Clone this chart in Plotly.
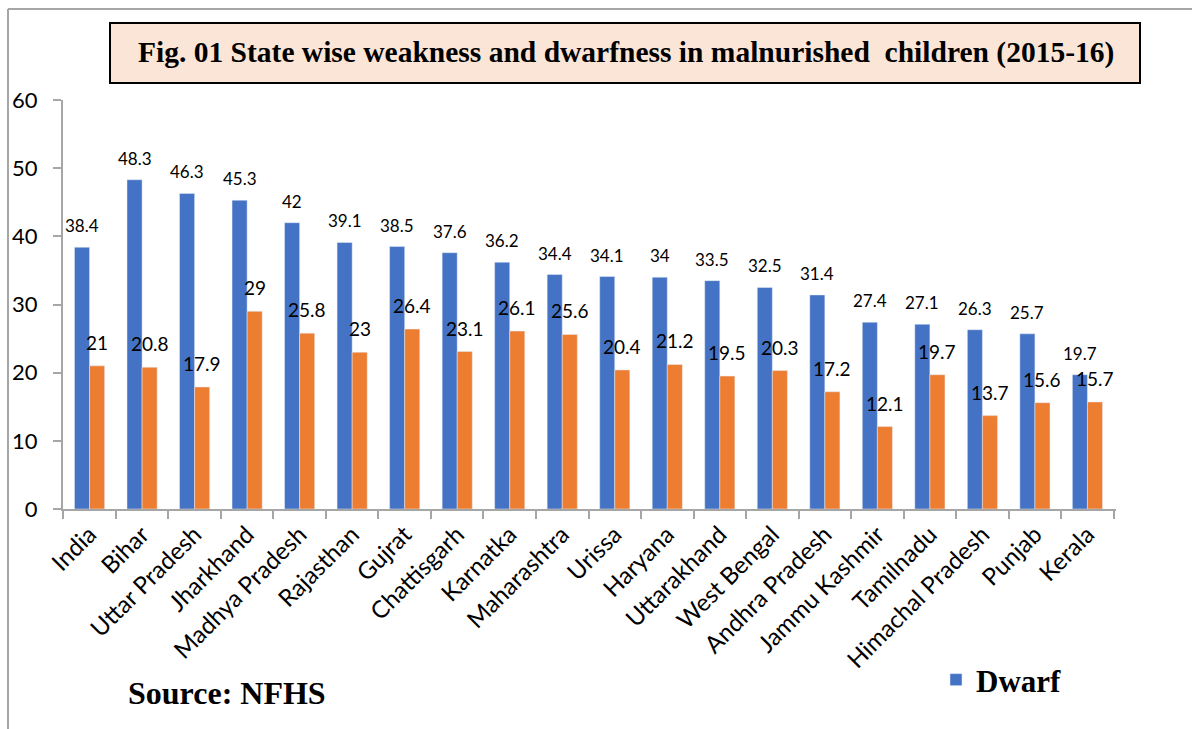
import plotly.graph_objects as go

states = ["India", "Bihar", "Uttar Pradesh", "Jharkhand", "Madhya Pradesh", "Rajasthan",
          "Gujrat", "Chattisgarh", "Karnatka", "Maharashtra", "Urissa", "Haryana",
          "Uttarakhand", "West Bengal", "Andhra Pradesh", "Jammu Kashmir", "Tamilnadu",
          "Himachal Pradesh", "Punjab", "Kerala"]
dwarf = [38.4, 48.3, 46.3, 45.3, 42, 39.1, 38.5, 37.6, 36.2, 34.4, 34.1, 34, 33.5, 32.5,
         31.4, 27.4, 27.1, 26.3, 25.7, 19.7]
weak = [21, 20.8, 17.9, 29, 25.8, 23, 26.4, 23.1, 26.1, 25.6, 20.4, 21.2, 19.5, 20.3,
        17.2, 12.1, 19.7, 13.7, 15.6, 15.7]
yticks = [0, 10, 20, 30, 40, 50, 60]

W, H = 1192, 729
L, R, T, B = 63, 1116, 100, 509
BLUE = "#4472c4"
ORANGE = "#ed7d31"


def px(x):
    return (x - L) / (R - L)


def py(y):
    return (B - y) / (B - T)


fig = go.Figure()
fig.add_trace(go.Bar(x=states, y=dwarf, name="Dwarf", marker=dict(color=BLUE),
                     showlegend=True))
fig.add_trace(go.Bar(x=states, y=weak, name="Weakness", marker=dict(color=ORANGE),
                     showlegend=False))

ann = []
half = (R - L) / len(states) * (1 - 0.426) / 4
for s, v in zip(states, dwarf):
    ann.append(dict(x=s, y=v, xref="x", yref="y", text=str(v), showarrow=False,
                    yanchor="bottom", xshift=-half, yshift=9,
                    font=dict(family="Lato", size=17, color="#000")))
for s, v in zip(states, weak):
    ann.append(dict(x=s, y=v, xref="x", yref="y", text=str(v), showarrow=False,
                    yanchor="bottom", xshift=half, yshift=10,
                    font=dict(family="Lato", size=19, color="#000")))

ann.append(dict(x=px(626), y=py(53), xref="paper", yref="paper",
                text="<b>Fig. 01 State wise weakness and dwarfness in malnurished&nbsp; children (2015-16)</b>",
                showarrow=False, xanchor="center", yanchor="middle",
                font=dict(family="Liberation Serif", size=29.5, color="#000")))
ann.append(dict(x=px(126), y=py(693), xref="paper", yref="paper",
                text="<b>Source: NFHS</b>", showarrow=False, xanchor="left", yanchor="middle",
                font=dict(family="Liberation Serif", size=32, color="#000")))

shapes = [
    dict(type="line", xref="paper", yref="paper", x0=px(8), x1=px(W), y0=py(9), y1=py(9),
         line=dict(color="#a6a6a6", width=2)),
    dict(type="line", xref="paper", yref="paper", x0=px(8), x1=px(8), y0=py(9), y1=py(H),
         line=dict(color="#a6a6a6", width=2)),
    dict(type="rect", xref="paper", yref="paper", x0=px(110), x1=px(1140), y0=py(83), y1=py(23),
         fillcolor="#fbe5d6", line=dict(color="#000", width=2), layer="below"),
]

fig.update_layout(
    width=W, height=H,
    margin=dict(l=L, r=W - R, t=T, b=H - B, autoexpand=False),
    paper_bgcolor="white", plot_bgcolor="white",
    barmode="group", bargap=0.426, bargroupgap=0,
    annotations=ann, shapes=shapes,
    legend=dict(x=px(936), y=py(680), xref="paper", yref="paper", xanchor="left",
                yanchor="middle", font=dict(family="Liberation Serif", size=31, color="#000",
                                            weight="bold"),
                bgcolor="rgba(0,0,0,0)", itemwidth=30),
    xaxis=dict(showline=True, linecolor="#a6a6a6", linewidth=2, ticks="outside",
               tickson="boundaries", ticklen=8, tickcolor="#a6a6a6", tickwidth=2,
               tickangle=-45, tickfont=dict(family="Lato", size=24, color="#000"),
               showgrid=False, zeroline=False, automargin=False),
    yaxis=dict(range=[0, 60], tickvals=yticks, showline=True, linecolor="#a6a6a6",
               linewidth=2, ticks="outside", ticklen=8, tickcolor="#a6a6a6", tickwidth=2,
               tickfont=dict(family="Lato", size=22, color="#000"), ticklabelstandoff=11,
               showgrid=False, zeroline=False, automargin=False),
)

fig.write_html("out.html")
